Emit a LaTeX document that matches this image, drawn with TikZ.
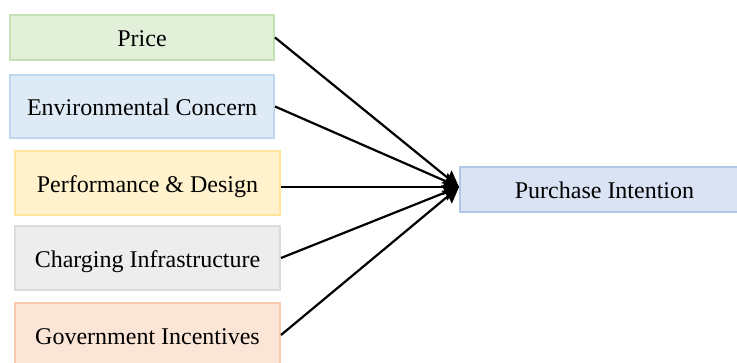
\documentclass[tikz,border=0pt]{standalone}
\usepackage{fontspec}
\setmainfont{Liberation Serif}
\usetikzlibrary{arrows.meta}
\definecolor{gfill}{HTML}{E2EFD9}\definecolor{gline}{HTML}{C5E0B4}
\definecolor{bfill}{HTML}{DEEBF7}\definecolor{bline}{HTML}{BDD7EE}
\definecolor{yfill}{HTML}{FFF2CC}\definecolor{yline}{HTML}{FFE699}
\definecolor{kfill}{HTML}{EDEDED}\definecolor{kline}{HTML}{DBDBDB}
\definecolor{ofill}{HTML}{FBE5D6}\definecolor{oline}{HTML}{F8CBAD}
\definecolor{pfill}{HTML}{DAE3F3}\definecolor{pline}{HTML}{B4C7E7}
\tikzset{
  factor/.style={draw, line width=2pt, rectangle, inner sep=0pt,
    font=\fontsize{24}{28}\selectfont, text depth=2pt, text height=21pt},
  link/.style={line width=2.2pt, -{Stealth[length=16pt,width=16pt,inset=2pt]}}
}
\begin{document}
\begin{tikzpicture}[x=1pt,y=-1pt]
\useasboundingbox (0,0) rectangle (737,363);
\node[factor, fill=gfill, draw=gline, minimum width=264pt, minimum height=45pt] (price) at (142,37.5) {Price};
\node[factor, fill=bfill, draw=bline, minimum width=264pt, minimum height=63pt] (env) at (142,106.5) {Environmental Concern};
\node[factor, fill=yfill, draw=yline, minimum width=265pt, minimum height=64pt] (perf) at (147.5,183) {Performance \& Design};
\node[factor, fill=kfill, draw=kline, minimum width=265pt, minimum height=64pt] (charge) at (147.5,258) {Charging Infrastructure};
\node[factor, fill=ofill, draw=oline, minimum width=265pt, minimum height=64pt] (gov) at (147.5,335) {Government Incentives};
\node[factor, fill=pfill, draw=pline, minimum width=289pt, minimum height=45pt] (pi) at (604.5,189.5) {Purchase Intention};
\coordinate (tip) at ([yshift=2.5pt]pi.west);
\coordinate (perfout) at ([yshift=-4pt]perf.east);
\draw[link] (price.east) -- (tip);
\draw[link] (env.east) -- (tip);
\draw[link] (perfout) -- (tip);
\draw[link] (charge.east) -- (tip);
\draw[link] (gov.east) -- (tip);
\end{tikzpicture}
\end{document}
